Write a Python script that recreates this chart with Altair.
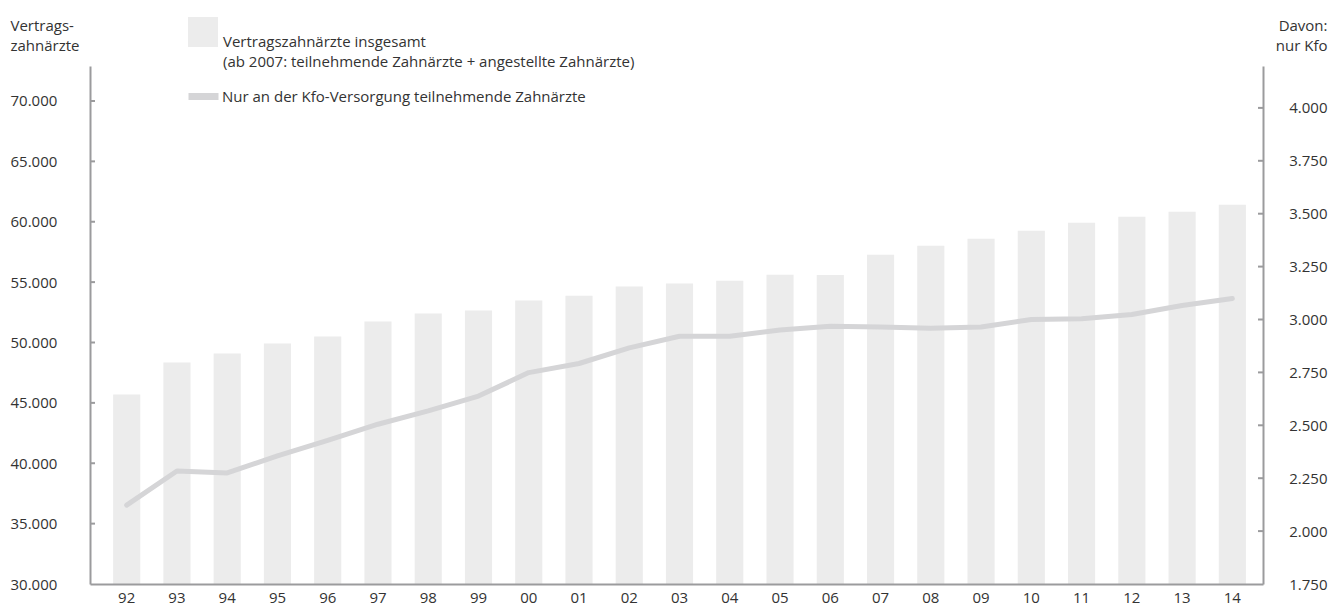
import altair as alt
import pandas as pd

jahre = ["92", "93", "94", "95", "96", "97", "98", "99", "00", "01", "02", "03",
         "04", "05", "06", "07", "08", "09", "10", "11", "12", "13", "14"]
insgesamt = [45700, 48350, 49090, 49920, 50500, 51740, 52400, 52650, 53470, 53880,
             54630, 54880, 55120, 55620, 55600, 57270, 58020, 58600, 59260, 59920,
             60410, 60830, 61400]
kfo = [2123, 2284, 2275, 2355, 2429, 2505, 2568, 2638, 2749, 2792, 2866, 2921,
       2921, 2950, 2968, 2964, 2959, 2965, 3000, 3003, 3024, 3066, 3099]
ticks_links = [35000, 40000, 45000, 50000, 55000, 60000, 65000, 70000]
ticks_rechts = [2000, 2250, 2500, 2750, 3000, 3250, 3500, 3750, 4000]
label_bar = "Vertragszahnärzte insgesamt"
label_bar_zeile2 = "(ab 2007: teilnehmende Zahnärzte + angestellte Zahnärzte)"
label_linie = "Nur an der Kfo-Versorgung teilnehmende Zahnärzte"

FONT = "Open Sans"
FS = 15
TXT = "#333333"
AX = "#9b9b9d"
BAR = "#ececec"
LINE = "#d5d5d7"
W, H = 1173, 518

# the symbol-only legend and the text legends need distinct domains (else Vega-Lite merges them)
sym_key = "Vertragszahnärzte"
df = pd.DataFrame({"Jahr": jahre, "Insgesamt": insgesamt, "Kfo": kfo,
                   "serie_bar": sym_key, "serie_bar1": label_bar,
                   "serie_bar2": label_bar_zeile2, "serie_linie": label_linie})
df_tl = pd.DataFrame({"v": ticks_links})
df_tr = pd.DataFrame({"v": ticks_rechts})

x_scale = alt.Scale(domain=jahre, paddingInner=0.46, paddingOuter=0.4, align=0.575)
x_enc = alt.X("Jahr:N", sort=jahre, scale=x_scale,
              axis=alt.Axis(title=None, labelAngle=0, ticks=False, tickSize=0, domain=True,
                            domainColor=AX, domainWidth=2, labelPadding=6, zindex=1,
                            labelFont=FONT, labelFontSize=FS, labelColor=TXT))

scale_l = alt.Scale(domain=[30000, 72898], nice=False, zero=False)
scale_r = alt.Scale(domain=[1750, 4198], nice=False, zero=False)

fmt = "replace(format(datum.value, ','), ',', '.')"

axis_l = alt.Axis(values=[30000] + ticks_links, ticks=False, tickSize=0, grid=False,
                  domainColor=AX, domainWidth=2, labelAlign="left", labelPadding=80,
                  labelExpr=fmt, zindex=1,
                  labelFont=FONT, labelFontSize=FS, labelColor=TXT,
                  title=["Vertrags-", "zahnärzte"], titleAngle=0, titleAlign="left",
                  titleBaseline="top", titleX=-80, titleY=-48, titleLineHeight=20,
                  titleFont=FONT, titleFontSize=FS, titleFontWeight="normal",
                  titleColor=TXT)
axis_r = alt.Axis(values=[1750] + ticks_rechts, ticks=False, tickSize=0, grid=False,
                  orient="right", domainColor=AX, domainWidth=2, labelAlign="right",
                  labelPadding=64, labelExpr=fmt, zindex=1,
                  labelFont=FONT, labelFontSize=FS, labelColor=TXT,
                  title=["Davon:", "nur Kfo"], titleAngle=0, titleAlign="right",
                  titleBaseline="top", titleX=64, titleY=-48, titleLineHeight=20,
                  titleFont=FONT, titleFontSize=FS, titleFontWeight="normal",
                  titleColor=TXT)

leg_common = dict(orient="none", title=None, padding=0, labelLimit=0,
                  labelFont=FONT, labelFontSize=FS, labelColor=TXT)
leg_text_only = dict(symbolType="square", symbolSize=900, symbolStrokeWidth=0,
                     symbolFillColor="white", symbolStrokeColor="white",
                     labelOffset=5, **leg_common)

bars = alt.Chart(df).mark_bar(clip=True).encode(
    x=x_enc,
    y=alt.Y("Insgesamt:Q", scale=scale_l, axis=axis_l),
    color=alt.Color("serie_bar:N",
                    scale=alt.Scale(domain=[sym_key], range=[BAR]),
                    legend=alt.Legend(legendX=98, legendY=-49, symbolType="square",
                                      symbolSize=900, symbolStrokeWidth=0, zindex=2,
                                      labelExpr="''", labelOffset=5, **leg_common)),
    strokeDash=alt.StrokeDash("serie_bar1:N",
                              scale=alt.Scale(domain=[label_bar], range=[[1, 0]]),
                              legend=alt.Legend(legendX=98, legendY=-39, symbolOpacity=0,
                                                zindex=0, **leg_text_only)),
    opacity=alt.Opacity("serie_bar2:N",
                        scale=alt.Scale(domain=[label_bar_zeile2], range=[1]),
                        legend=alt.Legend(legendX=98, legendY=-19, zindex=0,
                                          **leg_text_only)),
)

lticks = alt.Chart(df_tl).mark_rule(color=AX, strokeWidth=2).encode(
    y=alt.Y("v:Q", scale=scale_l, axis=axis_l),
    x=alt.value(0), x2=alt.value(5),
)

line = alt.Chart(df).mark_line(strokeWidth=5, strokeCap="round", strokeJoin="round").encode(
    x=x_enc,
    y=alt.Y("Kfo:Q", scale=scale_r, axis=axis_r),
    stroke=alt.Stroke("serie_linie:N",
                      scale=alt.Scale(domain=[label_linie], range=[LINE]),
                      legend=alt.Legend(legendX=95, legendY=12, symbolType="stroke",
                                        symbolSize=900, symbolStrokeWidth=7, zindex=2,
                                        labelOffset=0, **leg_common)),
)

rticks = alt.Chart(df_tr).mark_rule(color=AX, strokeWidth=2).encode(
    y=alt.Y("v:Q", scale=scale_r, axis=axis_r),
    x=alt.value(W - 5), x2=alt.value(W),
)

left = alt.layer(bars, lticks)
right = alt.layer(line, rticks)

chart = alt.layer(left, right).resolve_scale(y="independent").properties(
    width=W, height=H,
    autosize=alt.AutoSizeParams(type="none"),
    padding={"left": 82, "top": 58, "right": 65, "bottom": 26},
    background="white",
).configure_view(strokeWidth=0)

chart.save("out.html", embed_options={"renderer": "svg", "actions": False})
